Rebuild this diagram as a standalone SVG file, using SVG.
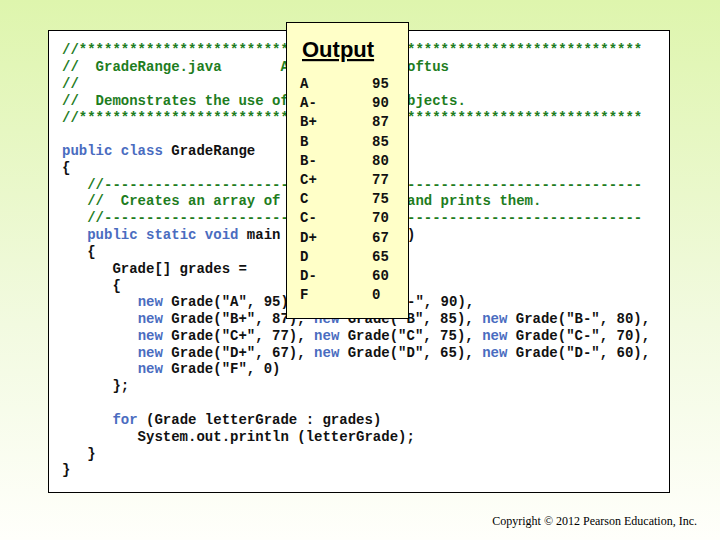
<svg xmlns="http://www.w3.org/2000/svg" width="720" height="540" viewBox="0 0 720 540">
<defs>
<linearGradient id="bg" x1="0" y1="0" x2="0" y2="1">
<stop offset="0" stop-color="#def5ad"/>
<stop offset="0.6" stop-color="#f2fae0"/>
<stop offset="1" stop-color="#fffffb"/>
</linearGradient>
<style>
.c{font-family:"Liberation Mono","DejaVu Sans Mono",monospace;font-size:14px;font-weight:bold;fill:#111;white-space:pre}
.g{fill:#1e7d1e}
.k{fill:#4a6cc0}
.o{font-family:"Liberation Mono","DejaVu Sans Mono",monospace;font-size:14px;font-weight:bold;fill:#111}
</style>
</defs>
<rect width="720" height="540" fill="url(#bg)"/>
<g id="code">
<rect x="48.5" y="30.5" width="621" height="462" fill="#fff" stroke="#000"/>
<text class="c" xml:space="preserve">
<tspan x="62" y="54" class="g">//*************************</tspan><tspan x="407" y="54" class="g">****************************</tspan>
<tspan x="62" y="71" class="g">//  GradeRange.java       A</tspan><tspan x="407" y="71" class="g">oftus</tspan>
<tspan x="62" y="88" class="g">//</tspan>
<tspan x="62" y="105" class="g">//  Demonstrates the use of</tspan><tspan x="407" y="105" class="g">bjects.</tspan>
<tspan x="62" y="122" class="g">//*************************</tspan><tspan x="407" y="122" class="g">****************************</tspan>
<tspan x="62" y="155"><tspan class="k">public class</tspan> GradeRange</tspan>
<tspan x="62" y="172">{</tspan>
<tspan x="62" y="189" class="g">   //----------------------</tspan><tspan x="407" y="189" class="g">----------------------------</tspan>
<tspan x="62" y="205" class="g">   //  Creates an array of</tspan><tspan x="407" y="205" class="g">and prints them.</tspan>
<tspan x="62" y="222" class="g">   //----------------------</tspan><tspan x="407" y="222" class="g">----------------------------</tspan>
<tspan x="62" y="239">   <tspan class="k">public static void</tspan> main</tspan><tspan x="407" y="239">)</tspan>
<tspan x="62" y="256">   {</tspan>
<tspan x="62" y="273">      Grade[] grades =</tspan>
<tspan x="62" y="290">      {</tspan>
<tspan x="62" y="306">         <tspan class="k">new</tspan> Grade("A", 95)</tspan><tspan x="407" y="306">-", 90),</tspan>
<tspan x="62" y="323">         <tspan class="k">new</tspan> Grade("B+", 87), <tspan class="k">new</tspan> Grade("B", 85), <tspan class="k">new</tspan> Grade("B-", 80),</tspan>
<tspan x="62" y="340">         <tspan class="k">new</tspan> Grade("C+", 77), <tspan class="k">new</tspan> Grade("C", 75), <tspan class="k">new</tspan> Grade("C-", 70),</tspan>
<tspan x="62" y="357">         <tspan class="k">new</tspan> Grade("D+", 67), <tspan class="k">new</tspan> Grade("D", 65), <tspan class="k">new</tspan> Grade("D-", 60),</tspan>
<tspan x="62" y="373">         <tspan class="k">new</tspan> Grade("F", 0)</tspan>
<tspan x="62" y="390">      };</tspan>
<tspan x="62" y="424">      <tspan class="k">for</tspan> (Grade letterGrade : grades)</tspan>
<tspan x="62" y="441">         System.out.println (letterGrade);</tspan>
<tspan x="62" y="458">   }</tspan>
<tspan x="62" y="474">}</tspan>
</text>
</g>
<g id="output">
<rect x="286.5" y="22.5" width="122" height="296" fill="#ffffc8" stroke="#000"/>
<text x="302" y="57" font-family="Liberation Sans,Arial,sans-serif" font-size="22" font-weight="bold" text-decoration="underline" fill="#000">Output</text>
<g class="o">
<text x="300" y="88">A</text><text x="372" y="88">95</text>
<text x="300" y="107">A-</text><text x="372" y="107">90</text>
<text x="300" y="126">B+</text><text x="372" y="126">87</text>
<text x="300" y="146">B</text><text x="372" y="146">85</text>
<text x="300" y="165">B-</text><text x="372" y="165">80</text>
<text x="300" y="184">C+</text><text x="372" y="184">77</text>
<text x="300" y="203">C</text><text x="372" y="203">75</text>
<text x="300" y="222">C-</text><text x="372" y="222">70</text>
<text x="300" y="242">D+</text><text x="372" y="242">67</text>
<text x="300" y="261">D</text><text x="372" y="261">65</text>
<text x="300" y="280">D-</text><text x="372" y="280">60</text>
<text x="300" y="299">F</text><text x="372" y="299">0</text>
</g>
</g>
<text x="697" y="525" text-anchor="end" font-family="Liberation Serif,Times New Roman,serif" font-size="12" fill="#000">Copyright © 2012 Pearson Education, Inc.</text>
</svg>
